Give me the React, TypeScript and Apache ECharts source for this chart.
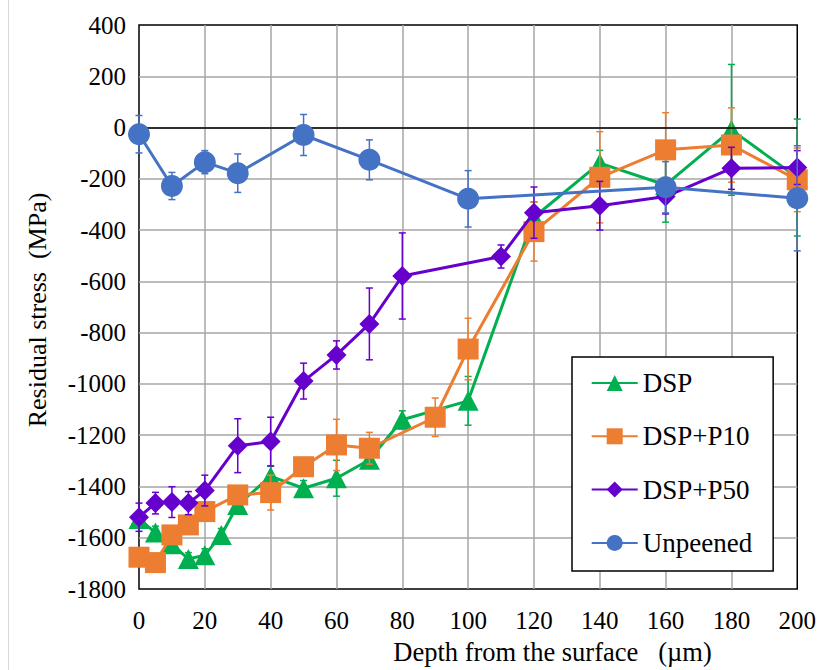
import React, { useEffect, useRef } from "react";
import * as echarts from "echarts";

const xTicks = [0, 20, 40, 60, 80, 100, 120, 140, 160, 180, 200];
const yTicks = [-1800, -1600, -1400, -1200, -1000, -800, -600, -400, -200, 0, 200, 400];

const depthDSP = [0, 5, 10, 15, 20, 25, 30, 40, 50, 60, 70, 80, 100, 120, 140, 160, 180, 200];
const stressDSP = [-1527, -1580, -1625, -1683, -1668, -1589, -1472, -1361, -1407, -1368, -1296, -1140, -1066, -350, -139, -224, -9, -195];
const errDSP = [25, 25, 25, 25, 25, 25, 30, 40, 30, 70, 30, 35, 95, 60, 50, 145, 255, 228];

const depthP10 = [0, 5, 10, 15, 20, 30, 40, 50, 60, 70, 90, 100, 120, 140, 160, 180, 200];
const stressP10 = [-1676, -1697, -1589, -1550, -1498, -1433, -1424, -1323, -1238, -1251, -1130, -864, -406, -194, -87, -68, -204];
const errP10 = [25, 25, 25, 25, 25, 30, 68, 30, 100, 62, 75, 120, 115, 178, 145, 145, 124];

const depthP50 = [0, 5, 10, 15, 20, 30, 40, 50, 60, 70, 80, 110, 120, 140, 160, 180, 200];
const stressP50 = [-1520, -1465, -1461, -1465, -1416, -1241, -1225, -989, -887, -766, -579, -503, -332, -305, -269, -159, -156];
const errP50 = [55, 42, 60, 45, 60, 105, 95, 70, 55, 140, 168, 45, 100, 95, 68, 82, 66];

const depthUn = [0, 10, 20, 30, 50, 70, 100, 160, 200];
const stressUn = [-26, -228, -135, -178, -29, -126, -278, -233, -276];
const errUn = [73, 53, 45, 75, 80, 78, 110, 100, 205];

const seriesNames = ["DSP", "DSP+P10", "DSP+P50", "Unpeened"];
const colors = ["#00b050", "#ed7d31", "#6600cc", "#4472c4"];

const FONT = "Liberation Serif";

function errSeries(name: string, xs: number[], ys: number[], es: number[], color: string, z: number) {
  return {
    type: "custom",
    name: name + "_err",
    z,
    clip: false,
    silent: true,
    encode: { x: 0, y: 1 },
    data: xs.map((x, i) => [x, ys[i], es[i]]),
    renderItem: (_params: any, api: any) => {
      const x = api.value(0);
      const y = api.value(1);
      const e = api.value(2);
      const top = api.coord([x, y + e]);
      const bot = api.coord([x, y - e]);
      const hw = 3.5;
      const st = { stroke: color, lineWidth: 1.5 };
      return {
        type: "group",
        children: [
          { type: "line", shape: { x1: top[0], y1: top[1], x2: bot[0], y2: bot[1] }, style: st },
          { type: "line", shape: { x1: top[0] - hw, y1: top[1], x2: top[0] + hw, y2: top[1] }, style: st },
          { type: "line", shape: { x1: bot[0] - hw, y1: bot[1], x2: bot[0] + hw, y2: bot[1] }, style: st },
        ],
      };
    },
  };
}

function lineSeries(name: string, xs: number[], ys: number[], color: string, symbol: string, size: any, z: number, extra: any = {}) {
  return {
    type: "line",
    name,
    z,
    data: xs.map((x, i) => [x, ys[i]]),
    symbol,
    symbolSize: size,
    showAllSymbol: true,
    lineStyle: { color, width: 3 },
    itemStyle: { color, borderWidth: 0 },
    emphasis: { disabled: true },
    ...extra,
  };
}

export default function App() {
  const ref = useRef<HTMLDivElement>(null);
  useEffect(() => {
    if (!ref.current) return;
    const chart = echarts.init(ref.current, null, { renderer: "svg" });
    chart.setOption({
      animation: false,
      backgroundColor: "#fff",
      grid: {
        left: 139,
        right: 21,
        top: 25,
        bottom: 81,
        show: true,
        borderColor: "#000",
        borderWidth: 1.5,
        backgroundColor: "transparent",
      },
      xAxis: {
        type: "value",
        min: 0,
        max: 200,
        interval: 20,
        axisLine: { show: false },
        axisTick: { show: false },
        axisLabel: {
          margin: 19,
          color: "#000",
          fontSize: 25,
          fontFamily: FONT,
          formatter: (v: number) => (xTicks.includes(v) ? String(v) : ""),
        },
        splitLine: { show: true, showMinLine: false, showMaxLine: false, lineStyle: { color: "#a6a6a6", width: 1.5 } },
      },
      yAxis: {
        type: "value",
        min: -1800,
        max: 400,
        interval: 200,
        axisLine: { show: false },
        axisTick: { show: false },
        axisLabel: {
          margin: 13,
          color: "#000",
          fontSize: 25,
          fontFamily: FONT,
          formatter: (v: number) => (yTicks.includes(v) ? String(v) : ""),
        },
        splitLine: { show: true, showMinLine: false, showMaxLine: false, lineStyle: { color: "#a6a6a6", width: 1.5 } },
      },
      legend: {
        data: seriesNames,
        orient: "vertical",
        left: 572,
        top: 357,
        padding: [11, 21, 13, 18.7],
        itemGap: 23.3,
        itemWidth: 46,
        itemHeight: 20,
        backgroundColor: "#fff",
        borderColor: "#000",
        borderWidth: 1.5,
        borderRadius: 0,
        z: 20,
        selectedMode: false,
        textStyle: { fontSize: 27, fontFamily: FONT, color: "#000", lineHeight: 30 },
      },
      graphic: [
        {
          type: "line",
          shape: { x1: 8.5, y1: 0, x2: 8.5, y2: 670 },
          style: { stroke: "#d9d9d9", lineWidth: 1 },
        },
        {
          type: "text",
          x: 37,
          y: 310,
          rotation: Math.PI / 2,
          style: {
            text: "Residual stress\u00a0\u00a0(MPa)",
            fontSize: 26,
            fontFamily: FONT,
            fill: "#000",
            align: "center",
            verticalAlign: "middle",
          },
        },
        {
          type: "text",
          x: 552.5,
          y: 652,
          style: {
            text: "Depth from the surface\u00a0\u00a0\u00a0(\u00b5m)",
            fontSize: 26.5,
            fontFamily: FONT,
            fill: "#000",
            align: "center",
            verticalAlign: "middle",
          },
        },
      ],
      series: [
        errSeries("DSP", depthDSP, stressDSP, errDSP, colors[0], 2),
        lineSeries("DSP", depthDSP, stressDSP, colors[0], "triangle", [21, 20], 3, {
          markLine: {
            silent: true,
            symbol: ["none", "none"],
            label: { show: false },
            lineStyle: { color: "#000", width: 1.5, type: "solid" },
            data: [{ yAxis: 0 }],
            emphasis: { disabled: true },
          },
        }),
        errSeries("DSP+P10", depthP10, stressP10, errP10, colors[1], 4),
        lineSeries("DSP+P10", depthP10, stressP10, colors[1], "rect", 21, 5),
        errSeries("DSP+P50", depthP50, stressP50, errP50, colors[2], 6),
        lineSeries("DSP+P50", depthP50, stressP50, colors[2], "diamond", 20, 7),
        errSeries("Unpeened", depthUn, stressUn, errUn, colors[3], 8),
        lineSeries("Unpeened", depthUn, stressUn, colors[3], "circle", 22, 9),
      ],
    });
    return () => chart.dispose();
  }, []);
  return (
    <div
      ref={ref}
      style={{ position: "absolute", left: 0, top: 0, width: 819, height: 670 }}
    />
  );
}
